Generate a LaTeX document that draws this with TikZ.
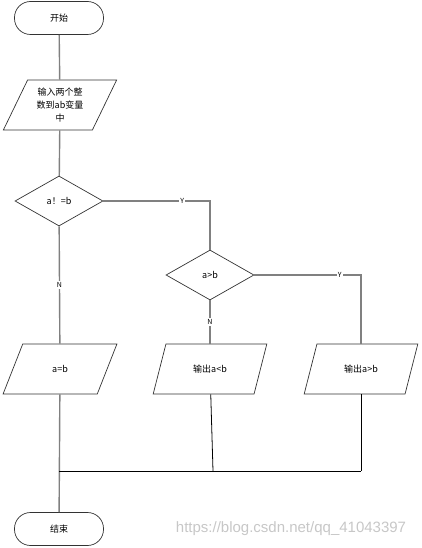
\documentclass[tikz,border=0pt]{standalone}
\usepackage{fontspec}
\newfontfamily\cjk{Noto Sans CJK SC}
\newfontfamily\wmfont{Liberation Sans}
\usepackage{tikz}
\usetikzlibrary{shapes.geometric,arrows.meta,positioning}

\tikzset{
  term/.style={draw=black!80,line width=0.7pt,rounded corners=16pt,
    minimum width=89pt,minimum height=33pt,font=\cjk\fontsize{9}{11}\selectfont},
  io/.style={draw=black!80,line width=0.7pt,trapezium,trapezium stretches=true,
    trapezium left angle=63.4,trapezium right angle=116.6,
    minimum width=114pt,minimum height=50pt,inner sep=1pt,align=center,
    font=\cjk\fontsize{9}{13}\selectfont},
  decide/.style={draw=black!80,line width=0.7pt,diamond,
    minimum width=88pt,minimum height=50pt,inner sep=0pt,
    font=\cjk\fontsize{9}{11}\selectfont},
  flow/.style={draw=black!50,line width=1.4pt},
  merge/.style={draw=black,line width=0.8pt},
  yn/.style={fill=white,inner sep=1pt,font=\cjk\fontsize{7}{8}\selectfont}
}

\begin{document}
\begin{tikzpicture}[x=1pt,y=-1pt]
  \useasboundingbox (0,0) rectangle (422,548);
  % start and input
  \node[term] (start) at (59,18) {开始};
  \node[io] (input) at (60,105) {输入两个整\\数到ab变量\\中};
  % decisions
  \node[decide] (eq) at (59,201) {a！=b};
  \node[decide] (gt) at (210,275) {a>b};
  % outputs
  \node[io] (same) at (60,369) {a=b};
  \node[io] (less) at (210,369) {输出a<b};
  \node[io] (more) at (361,369) {输出a>b};
  \node[term] (stop) at (59,529) {结束};
  % merge points
  \coordinate (m1) at (59,471);
  \coordinate (m2) at (213,471);
  \coordinate (m3) at (361,471);

  % main flow
  \draw[flow] (start) -- (input);
  \draw[flow] (input) -- (eq);
  \draw[flow] (eq) -- node[yn]{N} (same);
  \draw[flow] (eq.east) -| node[yn,pos=0.37]{Y} (gt.north);
  \draw[flow] (gt) -- node[yn]{N} (less);
  \draw[flow] (gt.east) -| node[yn,pos=0.4]{Y} (more.north);
  \draw[flow] (same) -- (stop);
  % join the branches
  \draw[merge] (less) -- (m2);
  \draw[merge] (more) -- (m3);
  \draw[merge] (m1) -- (m3);

  % watermark
  \node[text=black!22,font=\wmfont\fontsize{15}{16}\selectfont] (mark) at (291,529)
    {https://blog.csdn.net/qq\_41043397};
\end{tikzpicture}
\end{document}
